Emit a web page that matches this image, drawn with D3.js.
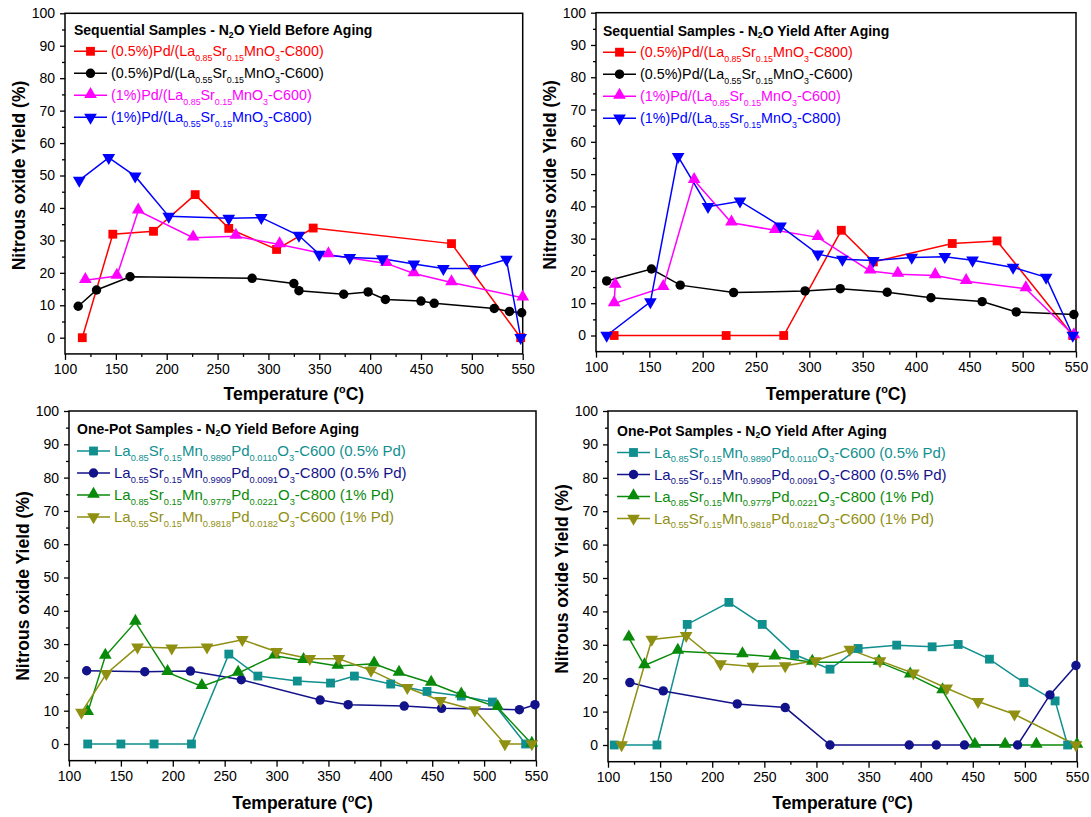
<!DOCTYPE html>
<html>
<head>
<meta charset="utf-8">
<script src="https://cdn.jsdelivr.net/npm/d3@7"></script>
<style>
  html, body { margin: 0; padding: 0; background: #fff; }
  svg { display: block; font-family: "Liberation Sans", Arial, sans-serif; }
</style>
</head>
<body>
<svg id="chart" width="1091" height="817"></svg>
<script>
// ---------------- DATA ----------------
const xTickValues = [100, 150, 200, 250, 300, 350, 400, 450, 500, 550];
const yTickValues = [0, 10, 20, 30, 40, 50, 60, 70, 80, 90, 100];

const panelTitles = [
  "Sequential Samples - N_{2}O Yield Before Aging",
  "Sequential Samples - N_{2}O Yield After Aging",
  "One-Pot Samples - N_{2}O Yield Before Aging",
  "One-Pot Samples - N_{2}O Yield After Aging"
];

const seqLabels = [
  "(0.5%)Pd/(La_{0.85}Sr_{0.15}MnO_{3}-C800)",
  "(0.5%)Pd/(La_{0.55}Sr_{0.15}MnO_{3}-C600)",
  "(1%)Pd/(La_{0.85}Sr_{0.15}MnO_{3}-C600)",
  "(1%)Pd/(La_{0.55}Sr_{0.15}MnO_{3}-C800)"
];
const potLabels = [
  "La_{0.85}Sr_{0.15}Mn_{0.9890}Pd_{0.0110}O_{3}-C600 (0.5% Pd)",
  "La_{0.55}Sr_{0.15}Mn_{0.9909}Pd_{0.0091}O_{3}-C800 (0.5% Pd)",
  "La_{0.85}Sr_{0.15}Mn_{0.9779}Pd_{0.0221}O_{3}-C800 (1% Pd)",
  "La_{0.55}Sr_{0.15}Mn_{0.9818}Pd_{0.0182}O_{3}-C600 (1% Pd)"
];

// Sequential - before aging  [temperature, yield]
const seqBeforeRed = [[117,0],[147,31.9],[187,32.8],[228,44.1],[261,33.7],[308,27.2],[344,33.8],[480,29],[548,0]];
const seqBeforeBlack = [[113,9.7],[131,14.7],[164,18.8],[284,18.3],[325,16.7],[330,14.5],[374,13.4],[398,14.1],[415,11.8],[450,11.3],[463,10.6],[522,9.0],[537,8.1],[549,7.7]];
const seqBeforeMagenta = [[120,17.7],[151,19.0],[172,39.1],[226,30.8],[268,31.3],[311,28.7],[359,25.6],[416,22.9],[443,19.8],[480,17.0],[550,12.3]];
const seqBeforeBlue = [[114,48.5],[143,55.5],[169,49.8],[202,37.4],[261,36.8],[293,37.0],[330,31.5],[350,25.7],[380,24.7],[412,24.3],[443,22.7],[472,21.3],[503,21.3],[534,24.1],[548,0]];

// Sequential - after aging
const seqAfterRed = [[117,0],[222,0],[276,0],[330,32.6],[360,22.8],[434,28.5],[476,29.3],[547,0]];
const seqAfterBlack = [[110,16.9],[152,20.6],[179,15.6],[229,13.3],[296,13.8],[329,14.5],[373,13.4],[414,11.7],[462,10.5],[494,7.3],[548,6.5]];
const seqAfterMagenta = [[118,15.6],[117,9.9],[163,14.9],[192,48.1],[227,34.9],[268,32.6],[308,30.4],[357,20.0],[383,19.0],[418,18.6],[447,16.8],[503,14.5],[548,0]];
const seqAfterBlue = [[110,0],[151,10.4],[177,55.4],[205,39.9],[235,41.6],[273,33.9],[308,25.2],[331,23.6],[360,23.2],[396,24.2],[427,24.4],[453,23.3],[491,21.1],[522,18.0],[547,0]];

// One-pot - before aging
const potBeforeTeal = [[118,0],[150,0],[182,0],[218,0],[254,27.0],[282,20.4],[320,18.9],[352,18.3],[375,20.4],[410,18.0],[445,15.8],[478,14.4],[508,12.6],[540,0]];
const potBeforeNavy = [[117,22.0],[173,21.7],[217,21.9],[266,19.3],[342,13.2],[369,11.8],[423,11.4],[459,10.7],[534,10.3],[549,11.8]];
const potBeforeGreen = [[118,9.5],[135,26.4],[164,36.6],[195,21.5],[228,17.3],[263,21.3],[298,26.5],[326,25.1],[359,23.4],[394,24.1],[418,21.3],[449,18.3],[478,14.8],[513,11.0],[546,0]];
const potBeforeOlive = [[112,9.5],[136,21.1],[166,29.1],[199,28.8],[233,29.1],[267,31.3],[300,27.7],[332,25.6],[360,25.6],[391,22.1],[426,16.9],[458,13.0],[491,10.2],[520,0],[546,0]];

// One-pot - after aging
const potAfterTeal = [[106,0],[147,0],[176,36.1],[216,42.7],[248,36.1],[279,27.1],[313,22.7],[340,28.9],[377,29.9],[411,29.4],[436,30.1],[466,25.7],[499,18.7],[529,13.2],[541,0]];
const potAfterNavy = [[121,18.7],[153,16.2],[224,12.3],[270,11.2],[313,0],[389,0],[415,0],[442,0],[493,0],[524,15.0],[549,23.8]];
const potAfterGreen = [[120,32.1],[135,23.8],[167,28.1],[229,27.1],[260,26.4],[296,24.8],[360,24.8],[390,21.0],[421,16.3],[452,0],[481,0],[511,0],[550,0]];
const potAfterOlive = [[113,0],[142,31.6],[175,32.7],[208,24.3],[239,23.5],[270,23.7],[299,25.2],[332,28.6],[361,25.2],[393,21.5],[425,17.0],[455,13.0],[490,9.2],[549,0]];

// ---------------- STYLE / LAYOUT ----------------
const seqColors = ["#ff0000", "#000000", "#ff00ff", "#0000ff"];
const potColors = ["#108f8f", "#12128a", "#0a8a0a", "#8f8f12"];
const symbolTypes = ["square", "circle", "triangle", "down"];

const panels = [
  { x: [65, 522.7], y: [337.7, 13.3], title: panelTitles[0], labels: seqLabels, colors: seqColors, lfs: 14.3,
    series: [seqBeforeRed, seqBeforeBlack, seqBeforeMagenta, seqBeforeBlue], ytitleY: 175.5, xtitleY: 400, leg: {dx: 9, tdy: 17, rdy: 38} },
  { x: [596, 1076], y: [335.5, 12.7], title: panelTitles[1], labels: seqLabels, colors: seqColors, lfs: 14.3,
    series: [seqAfterRed, seqAfterBlack, seqAfterMagenta, seqAfterBlue], ytitleY: 175, xtitleY: 400, leg: {dx: 7, tdy: 18, rdy: 39.5} },
  { x: [69, 536], y: [744, 411], title: panelTitles[2], labels: potLabels, colors: potColors, lfs: 15,
    series: [potBeforeTeal, potBeforeNavy, potBeforeGreen, potBeforeOlive], ytitleY: 586, xtitleY: 809, leg: {dx: 8, tdy: 18, rdy: 40} },
  { x: [608, 1077], y: [745, 411], title: panelTitles[3], labels: potLabels, colors: potColors, lfs: 15,
    series: [potAfterTeal, potAfterNavy, potAfterGreen, potAfterOlive], ytitleY: 579, xtitleY: 809, leg: {dx: 9, tdy: 19.5, rdy: 41.5} }
];

const svg = d3.select("#chart");
svg.append("rect").attr("width", 1091).attr("height", 817).attr("fill", "#fff");

function richText(sel, str, fs) {
  const parts = str.split(/(_\{[^}]*\}|\^\{[^}]*\})/).filter(s => s.length);
  let shift = 0;
  parts.forEach(p => {
    let target = 0, size = fs, txt = p;
    if (p.startsWith("_{")) { target = fs * 0.32; size = fs * 0.62; txt = p.slice(2, -1); }
    else if (p.startsWith("^{")) { target = -fs * 0.42; size = fs * 0.62; txt = p.slice(2, -1); }
    sel.append("tspan").attr("dy", target - shift).attr("font-size", size).text(txt);
    shift = target;
  });
}

function symbolPath(type, size) {
  if (type === "square") return d3.symbol(d3.symbolSquare, size)();
  if (type === "circle") return d3.symbol(d3.symbolCircle, size)();
  return d3.symbol(d3.symbolTriangle, size)();
}
const symSize = { square: 78, circle: 70, triangle: 70, down: 70 };

function drawMarker(g, type, color, cx, cy) {
  const path = g.append("path")
    .attr("d", symbolPath(type, symSize[type]))
    .attr("fill", color)
    .attr("stroke", "none");
  if (type === "down") path.attr("transform", `translate(${cx},${cy}) rotate(180)`);
  else if (type === "triangle") path.attr("transform", `translate(${cx},${cy - 1})`);
  else path.attr("transform", `translate(${cx},${cy})`);
}

panels.forEach(p => {
  const x = d3.scaleLinear().domain([100, 550]).range(p.x);
  const y = d3.scaleLinear().domain([0, 100]).range(p.y);
  const g = svg.append("g");
  const yBottom = y(-5);

  const xMinor = d3.range(125, 550, 50);
  const yMinor = d3.range(5, 100, 10);

  const xAxis = d3.axisBottom(x).tickValues(xTickValues).tickSize(6).tickPadding(4).tickFormat(d3.format("d"));
  const xAxisMinor = d3.axisBottom(x).tickValues(xMinor).tickSize(3).tickFormat("");
  const yAxis = d3.axisLeft(y).tickValues(yTickValues).tickSize(5).tickPadding(5).tickFormat(d3.format("d"));
  const yAxisMinor = d3.axisLeft(y).tickValues(yMinor).tickSize(3).tickFormat("");

  [xAxis, xAxisMinor].forEach(ax => {
    const a = g.append("g").attr("transform", `translate(0,${yBottom})`).call(ax);
    a.select(".domain").remove();
    a.selectAll("line").attr("stroke", "#000").attr("stroke-width", 1.3);
    a.selectAll("text").attr("font-size", 14).attr("fill", "#000").attr("font-family", "Liberation Sans, Arial, sans-serif");
  });
  [yAxis, yAxisMinor].forEach(ax => {
    const a = g.append("g").attr("transform", `translate(${p.x[0]},0)`).call(ax);
    a.select(".domain").remove();
    a.selectAll("line").attr("stroke", "#000").attr("stroke-width", 1.3);
    a.selectAll("text").attr("font-size", 14).attr("fill", "#000").attr("font-family", "Liberation Sans, Arial, sans-serif");
  });

  // frame
  g.append("rect")
    .attr("x", x(100)).attr("y", y(100))
    .attr("width", x(550) - x(100)).attr("height", yBottom - y(100))
    .attr("fill", "none").attr("stroke", "#000").attr("stroke-width", 1.5);

  // axis titles
  g.append("text")
    .attr("transform", `translate(${p.x[0] - 46},${p.ytitleY}) rotate(-90)`)
    .attr("text-anchor", "middle").attr("dominant-baseline", "central")
    .attr("font-weight", "bold").attr("font-size", 17.5).attr("fill", "#000")
    .text("Nitrous oxide Yield (%)");
  const xt = g.append("text")
    .attr("x", (p.x[0] + p.x[1]) / 2).attr("y", p.xtitleY)
    .attr("text-anchor", "middle")
    .attr("font-weight", "bold").attr("font-size", 17.5).attr("fill", "#000");
  richText(xt, "Temperature (^{o}C)", 17.5);

  // series
  const line = d3.line().x(d => x(d[0])).y(d => y(d[1]));
  p.series.forEach((s, i) => {
    g.append("path").datum(s).attr("d", line)
      .attr("fill", "none").attr("stroke", p.colors[i]).attr("stroke-width", 1.5);
  });
  p.series.forEach((s, i) => {
    s.forEach(d => drawMarker(g, symbolTypes[i], p.colors[i], x(d[0]), y(d[1])));
  });

  // legend
  const lx = p.x[0] + p.leg.dx;
  const tt = g.append("text")
    .attr("x", lx).attr("y", y(100) + p.leg.tdy)
    .attr("dominant-baseline", "central")
    .attr("font-weight", "bold").attr("font-size", 14).attr("fill", "#000");
  richText(tt, p.title, 14);
  p.labels.forEach((lab, i) => {
    const cy = y(100) + p.leg.rdy + i * 22;
    g.append("line").attr("x1", lx).attr("x2", lx + 33).attr("y1", cy).attr("y2", cy)
      .attr("stroke", p.colors[i]).attr("stroke-width", 1.5);
    drawMarker(g, symbolTypes[i], p.colors[i], lx + 16.5, cy);
    const t = g.append("text").attr("x", lx + 37).attr("y", cy + 5)
      .attr("font-size", p.lfs).attr("fill", p.colors[i]);
    richText(t, lab, p.lfs);
  });
});
</script>
</body>
</html>
